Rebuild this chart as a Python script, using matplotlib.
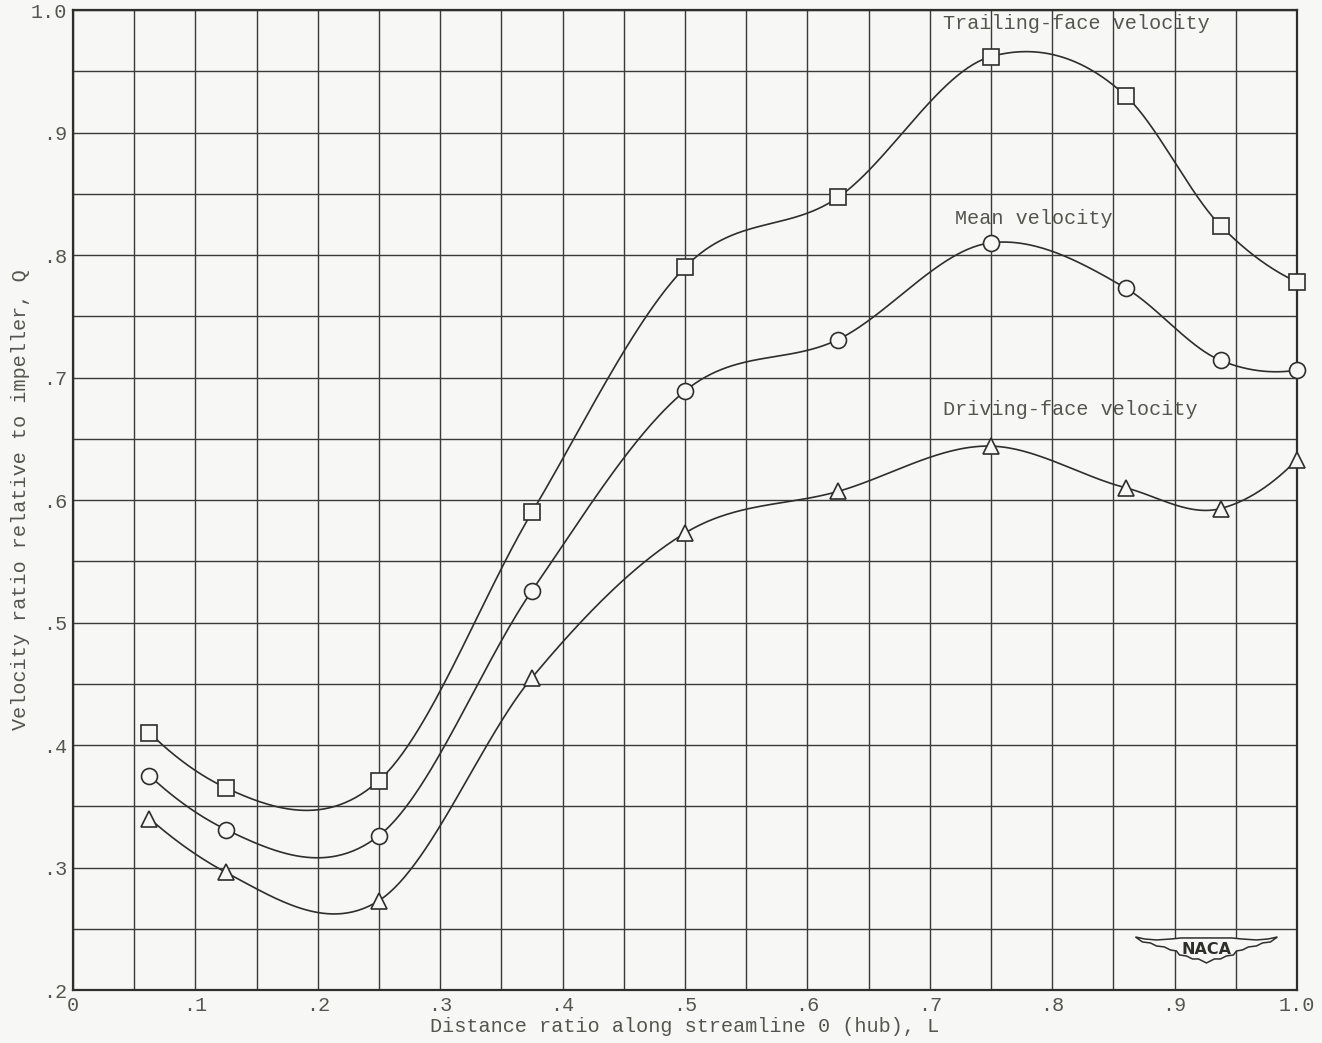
import numpy as np
import matplotlib.pyplot as plt
from matplotlib.patches import Polygon

# distance ratio L at the measuring stations
L = [0.0625, 0.125, 0.25, 0.375, 0.5, 0.625, 0.75, 0.86, 0.9375, 1.0]

# velocity ratio Q on each face and the mean
trailing = [0.410, 0.365, 0.371, 0.590, 0.790, 0.847, 0.962, 0.930, 0.824, 0.778]
mean = [0.375, 0.331, 0.326, 0.526, 0.689, 0.731, 0.810, 0.773, 0.714, 0.706]
driving = [0.340, 0.296, 0.273, 0.455, 0.573, 0.607, 0.644, 0.610, 0.593, 0.633]

xticks = [0, 0.1, 0.2, 0.3, 0.4, 0.5, 0.6, 0.7, 0.8, 0.9, 1.0]
xlabels = ['0', '.1', '.2', '.3', '.4', '.5', '.6', '.7', '.8', '.9', '1.0']
yticks = [0.2, 0.3, 0.4, 0.5, 0.6, 0.7, 0.8, 0.9, 1.0]
ylabels = ['.2', '.3', '.4', '.5', '.6', '.7', '.8', '.9', '1.0']

INK = '#2e2e2a'
GRID = '#3a3a36'
TXT = '#55554f'
PAPER = '#f7f7f5'


def faired(x, y, n=60):
    # piecewise cubic Hermite curve, slopes from the parabola through
    # neighbouring points (Bessel slopes)
    x = np.asarray(x, float)
    y = np.asarray(y, float)
    h = np.diff(x)
    d = np.diff(y) / h
    m = np.empty_like(y)
    m[1:-1] = (h[1:] * d[:-1] + h[:-1] * d[1:]) / (h[:-1] + h[1:])
    m[0] = ((2 * h[0] + h[1]) * d[0] - h[0] * d[1]) / (h[0] + h[1])
    m[-1] = ((2 * h[-1] + h[-2]) * d[-1] - h[-1] * d[-2]) / (h[-1] + h[-2])
    xs, ys = [], []
    for i in range(len(h)):
        t = np.linspace(0, 1, n)
        h00 = 2 * t**3 - 3 * t**2 + 1
        h10 = t**3 - 2 * t**2 + t
        h01 = -2 * t**3 + 3 * t**2
        h11 = t**3 - t**2
        xs.append(x[i] + t * h[i])
        ys.append(h00 * y[i] + h10 * h[i] * m[i] + h01 * y[i + 1] + h11 * h[i] * m[i + 1])
    return np.concatenate(xs), np.concatenate(ys)


plt.rcParams['font.family'] = ['Liberation Mono', 'DejaVu Sans Mono']

fig = plt.figure(figsize=(13.22, 10.43), dpi=100, facecolor=PAPER)
ax = fig.add_axes([0.0552, 0.0508, 0.9259, 0.9396])
ax.set_facecolor(PAPER)

ax.set_xlim(0, 1.0)
ax.set_ylim(0.2, 1.0)
ax.set_xticks(xticks, labels=xlabels)
ax.set_yticks(yticks, labels=ylabels)
ax.set_xticks(np.arange(0.05, 1.0, 0.1), minor=True)
ax.set_yticks(np.arange(0.25, 1.0, 0.1), minor=True)
ax.tick_params(which='both', length=0)
ax.tick_params(labelsize=14.5, labelcolor=TXT, pad=4)
ax.grid(True, which='both', color=GRID, linewidth=1.0)
ax.set_axisbelow(True)
for s in ax.spines.values():
    s.set_color(INK)
    s.set_linewidth(1.6)

for y, mk, ms in [(trailing, 's', 11), (mean, 'o', 11.5), (driving, '^', 12)]:
    xs, ys = faired(L, y)
    ax.plot(xs, ys, color=INK, linewidth=1.2, zorder=3)
    ax.plot(L, y, linestyle='none', marker=mk, markersize=ms,
            markerfacecolor=PAPER, markeredgecolor=INK, markeredgewidth=1.2,
            zorder=4, clip_on=False)

ax.text(0.711, 0.989, 'Trailing-face velocity', fontsize=14.5, color=TXT,
        va='center', ha='left')
ax.text(0.7206, 0.830, 'Mean velocity', fontsize=14.5, color=TXT,
        va='center', ha='left')
ax.text(0.711, 0.674, 'Driving-face velocity', fontsize=14.5, color=TXT,
        va='center', ha='left')

ax.set_xlabel('Distance ratio along streamline 0 (hub), L', fontsize=14.5,
              color=TXT, labelpad=2)
ax.set_ylabel('Velocity ratio relative to impeller, Q', fontsize=14.5,
              color=TXT, labelpad=1)

# NACA wing badge in the lower right corner (outline in pixel offsets)
cx, cy = 0.926, 0.2327
top = [(-71, -13), (-62, -11), (-50, -10), (-35, -11), (-25, -12), (0, -12),
       (25, -12), (35, -11), (50, -10), (62, -11), (71, -13)]
low = [(64, -8), (56, -7), (50, -4), (42, -3), (36, 0), (30, 1), (27, 5),
       (20, 6), (14, 9), (8, 9), (0, 13), (-8, 9), (-14, 9), (-20, 6),
       (-27, 5), (-30, 1), (-36, 0), (-42, -3), (-50, -4), (-56, -7), (-64, -8)]
ax.add_patch(Polygon([(cx + dx / 1224, cy - dy / 1225) for dx, dy in top + low],
                     closed=True, facecolor=PAPER, edgecolor=INK, linewidth=1.1,
                     zorder=5))
ax.text(cx, cy, 'NACA', fontsize=11.5, fontweight='bold', color=INK,
        family='DejaVu Sans', ha='center', va='center', zorder=6)

fig.savefig('out.png', dpi=100, facecolor=PAPER)
